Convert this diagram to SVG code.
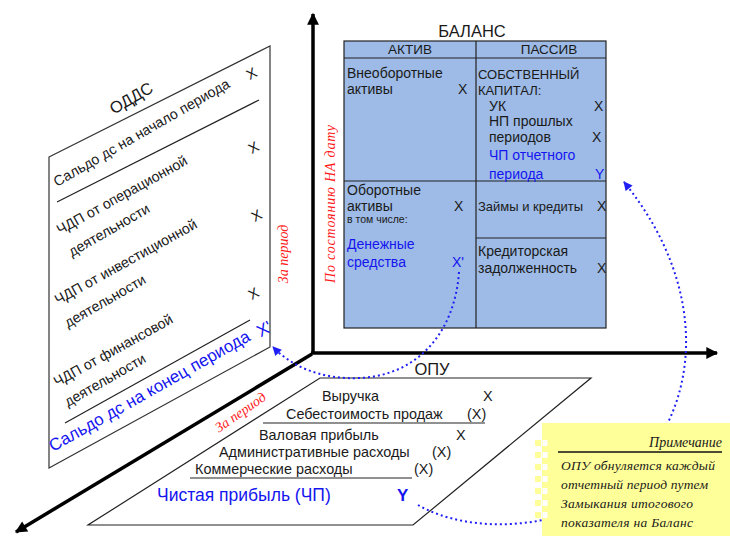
<svg xmlns="http://www.w3.org/2000/svg" width="730" height="536" viewBox="0 0 730 536">
<style>
.s{font-family:"Liberation Sans",Arial,sans-serif;fill:#1a1a1a}
.b{fill:#1515f0}
.r{font-family:"Liberation Serif","Times New Roman",serif;font-style:italic;fill:#ff1a1a}
.n{font-family:"Liberation Serif","Times New Roman",serif;font-style:italic;fill:#1a1a1a}
.ln{stroke:#222;stroke-width:1.2;fill:none}
.ax{stroke:#000;stroke-width:3.5;fill:none}
.dot{stroke:#1f1ff5;stroke-width:2;stroke-dasharray:2 3;fill:none}
.o{font-size:14.3px}
.t{font-size:14px}
.c{font-size:13px}
.p{font-size:14.4px}
</style>
<defs>
<marker id="ah" viewBox="0 0 10 10" refX="9" refY="5" markerWidth="4" markerHeight="3.4" orient="auto" markerUnits="strokeWidth">
<path d="M0,0 L10,5 L0,10 z" fill="#000"/>
</marker>
<marker id="bh" viewBox="0 0 10 10" refX="9" refY="5" markerWidth="5" markerHeight="4.5" orient="auto" markerUnits="strokeWidth">
<path d="M0,0 L10,5 L0,10 z" fill="#1f1ff5"/>
</marker>
</defs>
<rect width="730" height="536" fill="#fff"/>

<g id="axes">
<path class="ax" d="M313,353 L313,14" marker-end="url(#ah)"/>
<path class="ax" d="M311,353 L717,353" marker-end="url(#ah)"/>
<path class="ax" d="M312,354 L16,532" marker-end="url(#ah)"/>
</g>

<g id="odds">
<path d="M49,157 L270,46 L270,347 L49,468 Z" fill="#fff" stroke="#333" stroke-width="1.2"/>
<line class="ln" x1="57" y1="202" x2="259" y2="100"/>
<line class="ln" x1="65" y1="423" x2="250" y2="320"/>
<text class="s" font-size="16.5" text-anchor="middle" transform="translate(134,103) rotate(-30)">ОДДС</text>
<text class="s o" transform="translate(57,187) rotate(-30)">Сальдо дс на начало периода</text>
<text class="s o" transform="translate(60,235) rotate(-29)">ЧДП от операционной</text>
<text class="s o" transform="translate(72,257) rotate(-30)">деятельности</text>
<text class="s o" transform="translate(58,305) rotate(-29)">ЧДП от инвестиционной</text>
<text class="s o" transform="translate(68,328) rotate(-30)">деятельности</text>
<text class="s o" transform="translate(57,387) rotate(-29)">ЧДП от финансовой</text>
<text class="s o" transform="translate(68,407) rotate(-30)">деятельности</text>
<text class="s b" font-size="17" transform="translate(53,452) rotate(-29.5)">Сальдо дс на конец периода</text>
<text class="s b" font-size="17" text-anchor="middle" transform="translate(267,334) rotate(-29.5)">X'</text>
<text class="s" font-size="14.5" text-anchor="middle" transform="translate(254,78) rotate(-29)">X</text>
<text class="s" font-size="14.5" text-anchor="middle" transform="translate(256,152) rotate(-29)">X</text>
<text class="s" font-size="14.5" text-anchor="middle" transform="translate(259,220) rotate(-29)">X</text>
<text class="s" font-size="14.5" text-anchor="middle" transform="translate(256,298) rotate(-29)">X</text>
</g>

<g id="labels-period">
<text class="r" font-size="14" text-anchor="middle" transform="translate(288,254) rotate(-90)">За период</text>
<text class="r" font-size="14" text-anchor="middle" textLength="158" transform="translate(335,204) rotate(-90)">По состоянию НА дату</text>
<text class="r" font-size="14" text-anchor="middle" transform="translate(243,416) rotate(-35)">За период</text>
</g>

<g id="balance">
<text class="s" font-size="16.5" text-anchor="middle" x="472" y="37">БАЛАНС</text>
<rect x="344" y="41" width="262" height="287" fill="#9dbbe6" stroke="#222" stroke-width="1.2"/>
<line class="ln" x1="344" y1="58" x2="606" y2="58"/>
<line class="ln" x1="476" y1="41" x2="476" y2="328"/>
<line class="ln" x1="344" y1="181" x2="606" y2="181"/>
<line class="ln" x1="476" y1="238" x2="606" y2="238"/>
<text class="s" font-size="13.5" text-anchor="middle" x="410" y="54">АКТИВ</text>
<text class="s" font-size="13.5" text-anchor="middle" x="549" y="54">ПАССИВ</text>
<text class="s t" x="347" y="78">Внеоборотные</text>
<text class="s t" x="347" y="94">активы</text>
<text class="s t" x="458" y="94">X</text>
<text class="s c" x="478" y="79">СОБСТВЕННЫЙ</text>
<text class="s c" x="478" y="95">КАПИТАЛ:</text>
<text class="s t" x="489" y="111">УК</text>
<text class="s t" x="594" y="111">X</text>
<text class="s t" x="489" y="126">НП прошлых</text>
<text class="s t" x="489" y="142">периодов</text>
<text class="s t" x="592" y="142">X</text>
<text class="s b t" x="489" y="160">ЧП отчетного</text>
<text class="s b t" x="489" y="179">периода</text>
<text class="s b t" x="595" y="179">Y</text>
<text class="s t" x="347" y="195">Оборотные</text>
<text class="s t" x="347" y="211">активы</text>
<text class="s t" x="454" y="211">X</text>
<text class="s" font-size="10.5" x="347" y="223">в том числе:</text>
<text class="s b t" x="347" y="249">Денежные</text>
<text class="s b t" x="347" y="267">средства</text>
<text class="s b t" x="452" y="267">X'</text>
<text class="s c" x="478" y="211">Займы и кредиты</text>
<text class="s t" x="597" y="211">X</text>
<text class="s t" x="478" y="256">Кредиторская</text>
<text class="s t" x="478" y="273">задолженность</text>
<text class="s t" x="597" y="273">X</text>
</g>

<g id="opu">
<path d="M320,378 L591,378 L413,525 L88,525 Z" fill="#fff" stroke="#222" stroke-width="1.2"/>
<text class="s" font-size="16.5" text-anchor="middle" x="432" y="375">ОПУ</text>
<text class="s p" x="322" y="401">Выручка</text>
<text class="s p" x="483" y="401">X</text>
<text class="s p" x="286" y="419">Себестоимость продаж</text>
<text class="s p" x="467" y="419">(X)</text>
<line class="ln" x1="263" y1="423" x2="485" y2="423"/>
<text class="s p" x="259" y="440">Валовая прибыль</text>
<text class="s p" x="456" y="440">X</text>
<text class="s p" x="219" y="457">Административные расходы</text>
<text class="s p" x="432" y="457">(X)</text>
<text class="s p" x="195" y="474">Коммерческие расходы</text>
<text class="s p" x="414" y="474">(X)</text>
<line class="ln" x1="190" y1="478" x2="412" y2="478"/>
<text class="s b" font-size="17.5" x="157" y="501">Чистая прибыль (ЧП)</text>
<text class="s b" font-size="17" font-weight="bold" x="397" y="501">Y</text>
</g>

<g id="connectors">
<path class="dot" d="M459,272 C455,330 420,375 360,378 C320,380 290,365 273,347" marker-end="url(#bh)"/>
<path class="dot" d="M418,505 C470,535 560,530 612,490 C705,420 712,290 624,182" marker-end="url(#bh)"/>
</g>

<g id="note">
<line x1="538" y1="440" x2="538" y2="522" stroke="#ffff99" stroke-width="6" stroke-dasharray="6 6"/>
<rect x="542" y="423" width="188" height="113" fill="#ffff99"/>
<line x1="545" y1="440" x2="545" y2="522" stroke="#fff" stroke-width="5" stroke-dasharray="6 6"/>
<text class="n" font-size="14" text-anchor="end" x="722" y="447">Примечание</text>
<line x1="558" y1="452" x2="722" y2="452" stroke="#111" stroke-width="1.6"/>
<text class="n" font-size="13.5" x="561" y="470" textLength="154">ОПУ обнуляется каждый</text>
<text class="n" font-size="13.5" x="561" y="489" textLength="147">отчетный период путем</text>
<text class="n" font-size="13.5" x="561" y="508" textLength="132">Замыкания итогового</text>
<text class="n" font-size="13.5" x="561" y="527" textLength="132">показателя на Баланс</text>
</g>
</svg>
